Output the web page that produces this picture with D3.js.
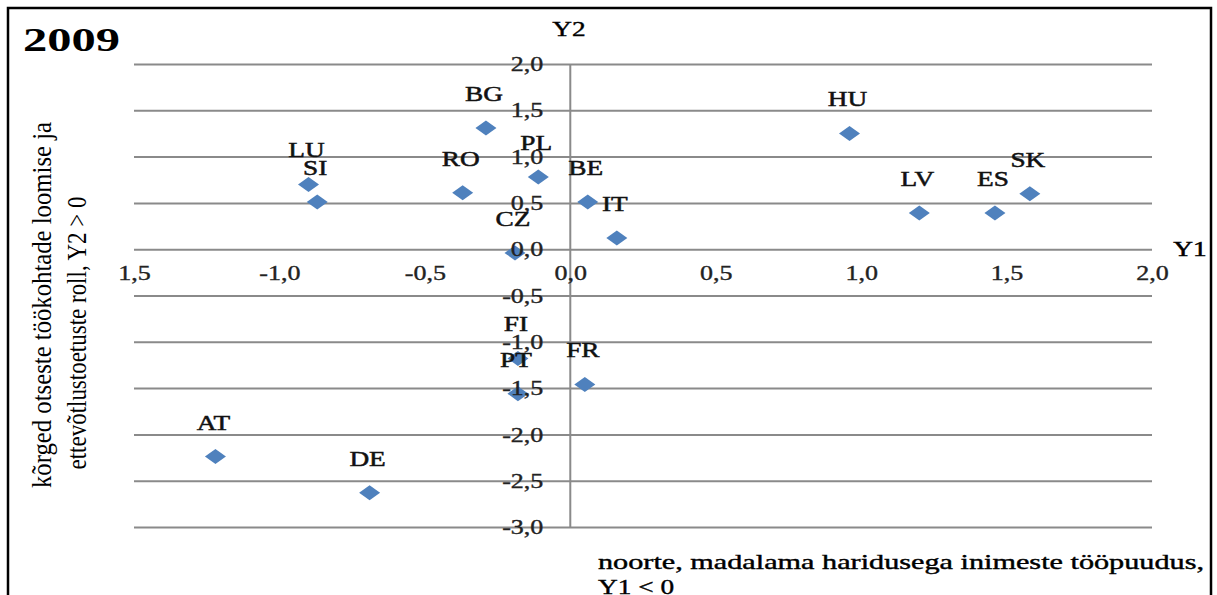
<!DOCTYPE html>
<html>
<head>
<meta charset="utf-8">
<script src="https://cdn.jsdelivr.net/npm/d3@7"></script>
<style>
  body { margin: 0; background: #fff; }
  text { font-family: "Liberation Serif", "Times New Roman", serif; }
</style>
</head>
<body>
<script>
//country codes and their two scores
var countries = ["LU", "SI", "BG", "RO", "PL", "BE", "IT", "CZ", "HU", "LV", "ES", "SK", "FI", "PT", "FR", "AT", "DE"];
var y1Values = [-0.90, -0.87, -0.29, -0.37, -0.11, 0.06, 0.16, -0.19, 0.96, 1.20, 1.46, 1.58, -0.18, -0.18, 0.05, -1.22, -0.69];
var y2Values = [0.70, 0.51, 1.31, 0.61, 0.78, 0.51, 0.12, -0.04, 1.25, 0.39, 0.39, 0.60, -1.18, -1.56, -1.46, -2.24, -2.63];

//axis ticks and their labels as they appear
var xTicks = [-1.5, -1.0, -0.5, 0.0, 0.5, 1.0, 1.5, 2.0];
var xTickLabels = ["1,5", "-1,0", "-0,5", "0,0", "0,5", "1,0", "1,5", "2,0"];
var yTicks = [2.0, 1.5, 1.0, 0.5, 0.0, -0.5, -1.0, -1.5, -2.0, -2.5, -3.0];
var yTickLabels = ["2,0", "1,5", "1,0", "0,5", "0,0", "-0,5", "-1,0", "-1,5", "-2,0", "-2,5", "-3,0"];

window.onload = drawChart();

function drawChart() {

    var width = 1217,
        height = 595,
        sx = 1.3; //text in the picture is stretched sideways

    var svg = d3.select("body")
        .append("svg")
        .attr("width", width)
        .attr("height", height);

    var x = d3.scaleLinear().domain([-1.5, 2.0]).range([134, 1152]);
    var y = d3.scaleLinear().domain([-3.0, 2.0]).range([527, 64]);

    var points = countries.map(function (c, i) {
        return { name: c, y1: y1Values[i], y2: y2Values[i] };
    });

    //outer frame
    svg.append("rect")
        .attr("x", 8).attr("y", 8)
        .attr("width", 1203).attr("height", 620)
        .attr("fill", "none")
        .attr("stroke", "#000")
        .attr("stroke-width", 2.5);

    //horizontal gridlines
    var grid = svg.append("g")
        .attr("transform", "translate(" + x.range()[0] + ",0)")
        .call(d3.axisLeft(y).tickValues(yTicks).tickSize(-(x.range()[1] - x.range()[0])).tickFormat(""));
    grid.select(".domain").remove();
    grid.selectAll("line").attr("stroke", "#8a8a8a").attr("stroke-width", 2);

    //vertical axis line at Y1 = 0
    svg.append("line")
        .attr("x1", x(0)).attr("x2", x(0))
        .attr("y1", y(2)).attr("y2", y(-3))
        .attr("stroke", "#8a8a8a")
        .attr("stroke-width", 2);

    //markers
    svg.selectAll(".dot")
        .data(points)
        .enter()
        .append("path")
        .attr("class", "dot")
        .attr("d", "M0,-7.5L10.5,0L0,7.5L-10.5,0Z")
        .attr("fill", "#4f81bd")
        .attr("transform", function (d) { return "translate(" + x(d.y1) + "," + y(d.y2) + ")"; });

    //x tick labels along Y2 = 0
    var xAxis = svg.append("g")
        .attr("transform", "translate(0," + y(0) + ")")
        .call(d3.axisBottom(x).tickValues(xTicks).tickSize(0)
            .tickFormat(function (d, i) { return xTickLabels[i]; }));
    xAxis.select(".domain").remove();
    xAxis.selectAll("text")
        .attr("y", 0).attr("dy", null)
        .attr("transform", "translate(0,31) scale(" + sx + ",1)")
        .attr("font-size", 20)
        .attr("fill", "#222")
        .attr("stroke", "#222")
        .attr("stroke-width", 0.35);

    //y tick labels next to the vertical axis
    var yAxis = svg.append("g")
        .attr("transform", "translate(" + x(0) + ",0)")
        .call(d3.axisLeft(y).tickValues(yTicks).tickSize(0)
            .tickFormat(function (d, i) { return yTickLabels[i]; }));
    yAxis.select(".domain").remove();
    yAxis.selectAll("text")
        .attr("x", 0).attr("dy", "0.33em")
        .attr("transform", "translate(-27,0) scale(" + sx + ",1)")
        .attr("font-size", 20)
        .attr("fill", "#222")
        .attr("stroke", "#222")
        .attr("stroke-width", 0.35);

    //data labels above markers
    svg.selectAll(".lbl")
        .data(points)
        .enter()
        .append("text")
        .attr("class", "lbl")
        .attr("text-anchor", "middle")
        .attr("font-size", 21)
        .attr("fill", "#111")
        .attr("stroke", "#111")
        .attr("stroke-width", 0.5)
        .attr("transform", function (d) {
            return "translate(" + (x(d.y1) - 2) + "," + (y(d.y2) - 27) + ") scale(" + sx + ",1)";
        })
        .text(function (d) { return d.name; });

    //title
    svg.append("text")
        .attr("x", 23).attr("y", 51)
        .attr("font-size", 34)
        .attr("font-weight", "bold")
        .attr("textLength", 97)
        .attr("lengthAdjust", "spacingAndGlyphs")
        .text("2009");

    //axis names
    svg.append("text")
        .attr("text-anchor", "middle")
        .attr("font-size", 21)
        .attr("stroke", "#000").attr("stroke-width", 0.4)
        .attr("transform", "translate(569,36) scale(" + sx + ",1)")
        .text("Y2");
    svg.append("text")
        .attr("text-anchor", "middle")
        .attr("font-size", 21)
        .attr("stroke", "#000").attr("stroke-width", 0.5)
        .attr("transform", "translate(1190,256) scale(" + sx + ",1)")
        .text("Y1");

    //y axis title, two rotated lines
    svg.append("text")
        .attr("text-anchor", "middle")
        .attr("font-size", 21)
        .attr("textLength", 366)
        .attr("lengthAdjust", "spacingAndGlyphs")
        .attr("transform", "translate(51,305) rotate(-90) scale(1," + sx + ")")
        .text("kõrged otseste töökohtade loomise ja");
    svg.append("text")
        .attr("text-anchor", "middle")
        .attr("font-size", 21)
        .attr("textLength", 273)
        .attr("lengthAdjust", "spacingAndGlyphs")
        .attr("transform", "translate(86,333) rotate(-90) scale(1," + sx + ")")
        .text("ettevõtlustoetuste roll, Y2 > 0");

    //x axis title, two lines
    svg.append("text")
        .attr("x", 598).attr("y", 569)
        .attr("font-size", 21)
        .attr("stroke", "#000").attr("stroke-width", 0.4)
        .attr("textLength", 606)
        .attr("lengthAdjust", "spacingAndGlyphs")
        .text("noorte, madalama haridusega inimeste tööpuudus,");
    svg.append("text")
        .attr("font-size", 21)
        .attr("stroke", "#000").attr("stroke-width", 0.4)
        .attr("transform", "translate(598,594) scale(" + sx + ",1)")
        .text("Y1 < 0");
}
</script>
</body>
</html>
